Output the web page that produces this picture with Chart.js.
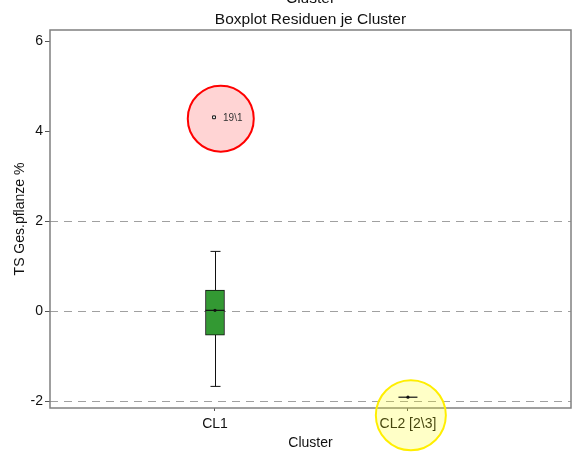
<!DOCTYPE html>
<html>
<head>
<meta charset="utf-8">
<script src="https://cdn.jsdelivr.net/npm/chart.js@4.4.0/dist/chart.umd.min.js"></script>
<style>
  html, body { margin: 0; padding: 0; background: #fff; }
  #wrap { width: 572px; height: 457px; }
</style>
</head>
<body>
<div id="wrap"><canvas id="chart"></canvas></div>
<script>
'use strict';

// ── Data ──
const categories  = ['CL1', 'CL2 [2\\3]'];
const clusterPos  = [1, 2];
const whiskerLow  = [-1.67, -1.91];
const q1          = [-0.53, -1.91];
const median      = [0.02, -1.91];
const q3          = [0.47, -1.91];
const whiskerHigh = [1.33, -1.91];
const means       = [0.02, -1.91];

const outlierX     = [0.995];
const outlierY     = [4.31];
const outlierLabel = ['19\\1'];

const yTicks   = [-2, 0, 2, 4, 6];
const refLines = [-2, 0, 2];

// highlight circles (centre in data units)
const circleX = [1.03, 2.015];
const circleY = [4.28, -2.31];

const FONT = 'Liberation Sans, Arial, sans-serif';
const BOX_W = 19;

const boxPlugin = {
    id: 'boxPlugin',
    beforeDatasetsDraw(chart) {
        const { ctx, chartArea: a, scales: { x, y } } = chart;
        ctx.save();
        // frame
        ctx.strokeStyle = '#808080';
        ctx.lineWidth = 1.5;
        ctx.strokeRect(a.left, a.top, a.right - a.left, a.bottom - a.top);
        // whiskers
        ctx.strokeStyle = '#111';
        ctx.lineWidth = 1;
        clusterPos.forEach((p, i) => {
            if (whiskerLow[i] === whiskerHigh[i]) return;
            const px = Math.round(x.getPixelForValue(p)) + 0.5;
            const lo = y.getPixelForValue(whiskerLow[i]);
            const hi = y.getPixelForValue(whiskerHigh[i]);
            ctx.beginPath();
            ctx.moveTo(px, lo); ctx.lineTo(px, hi);
            ctx.moveTo(px - 5, lo); ctx.lineTo(px + 5, lo);
            ctx.moveTo(px - 5, hi); ctx.lineTo(px + 5, hi);
            ctx.stroke();
        });
        ctx.restore();
    },
    afterDatasetsDraw(chart) {
        const { ctx, scales: { x, y } } = chart;
        ctx.save();
        ctx.strokeStyle = '#111';
        ctx.fillStyle = '#111';
        ctx.lineWidth = 1.2;
        clusterPos.forEach((p, i) => {
            const px = x.getPixelForValue(p);
            const my = y.getPixelForValue(median[i]);
            ctx.beginPath();
            ctx.moveTo(px - BOX_W / 2, my); ctx.lineTo(px + BOX_W / 2, my);
            ctx.stroke();
            ctx.beginPath();
            ctx.arc(px, y.getPixelForValue(means[i]), 1.6, 0, Math.PI * 2);
            ctx.fill();
        });
        // outlier labels
        ctx.font = '10px ' + FONT;
        ctx.fillStyle = '#333';
        ctx.textBaseline = 'middle';
        outlierX.forEach((v, i) => {
            ctx.fillText(outlierLabel[i], x.getPixelForValue(v) + 9, y.getPixelForValue(outlierY[i]) + 1);
        });
        ctx.restore();
    },
    afterDraw(chart) {
        const { ctx, chartArea: a } = chart;
        const cx = (a.left + a.right) / 2;
        ctx.save();
        ctx.fillStyle = '#111';
        ctx.textAlign = 'center';
        ctx.textBaseline = 'alphabetic';
        ctx.font = '15.5px ' + FONT;
        ctx.fillText('Cluster', cx, 3);
        ctx.fillText('Boxplot Residuen je Cluster', cx, 24);
        ctx.restore();
    }
};

new Chart(document.getElementById('chart'), {
    type: 'scatter',
    data: {
        datasets: [
            {
                type: 'bar',
                data: clusterPos.map((p, i) => ({ x: p, y: [q1[i], q3[i]] })),
                backgroundColor: '#339933',
                borderColor: '#111',
                borderWidth: 1,
                borderSkipped: false,
                barThickness: BOX_W,
                grouped: false,
                order: 2
            },
            {
                data: outlierX.map((v, i) => ({ x: v, y: outlierY[i] })),
                pointStyle: 'rect',
                radius: 2,
                backgroundColor: '#fff',
                borderColor: '#111',
                borderWidth: 1,
                order: 1
            },
            {
                type: 'bubble',
                data: circleX.map((v, i) => ({ x: v, y: circleY[i], r: i === 0 ? 33 : 35 })),
                backgroundColor: ['rgba(255,0,0,0.17)', 'rgba(255,255,0,0.22)'],
                borderColor: ['#ff0000', '#ffee00'],
                borderWidth: 2,
                clip: false,
                order: 10
            }
        ]
    },
    options: {
        responsive: true,
        maintainAspectRatio: false,
        animation: false,
        events: [],
        layout: { autoPadding: false, padding: { top: 30, right: 1, left: 0, bottom: 0 } },
        plugins: { legend: { display: false }, tooltip: { enabled: false }, title: { display: false } },
        scales: {
            x: {
                type: 'linear',
                min: 0.145,
                max: 2.845,
                offset: false,
                afterFit: s => { s.height = 49; },
                afterBuildTicks: s => { s.ticks = clusterPos.map(v => ({ value: v })); },
                ticks: {
                    font: { family: FONT, size: 14 },
                    color: '#111',
                    padding: 5,
                    maxRotation: 0,
                    autoSkip: false,
                    callback: (v, i) => categories[i]
                },
                grid: { display: true, offset: false, drawOnChartArea: false, drawTicks: true, tickLength: 3, tickColor: '#555' },
                border: { display: false },
                title: {
                    display: true, text: 'Cluster', color: '#111',
                    font: { family: FONT, size: 14 }, padding: { top: 0, bottom: 5 }
                }
            },
            y: {
                min: -2.15,
                max: 6.25,
                afterFit: s => { s.width = 50; },
                afterBuildTicks: s => { s.ticks = yTicks.map(v => ({ value: v })); },
                ticks: {
                    font: { family: FONT, size: 14 },
                    color: '#111',
                    padding: 2
                },
                grid: {
                    color: c => refLines.includes(c.tick && c.tick.value) ? '#a0a0a0' : 'rgba(0,0,0,0)',
                    tickColor: '#555',
                    tickLength: 5,
                    tickBorderDash: [],
                    lineWidth: 1
                },
                border: { display: false, dash: [8, 6] },
                title: {
                    display: true, text: 'TS Ges.pflanze %', color: '#111',
                    font: { family: FONT, size: 14 }, padding: { top: 12, bottom: 0 }
                }
            }
        }
    },
    plugins: [boxPlugin]
});
</script>
</body>
</html>
